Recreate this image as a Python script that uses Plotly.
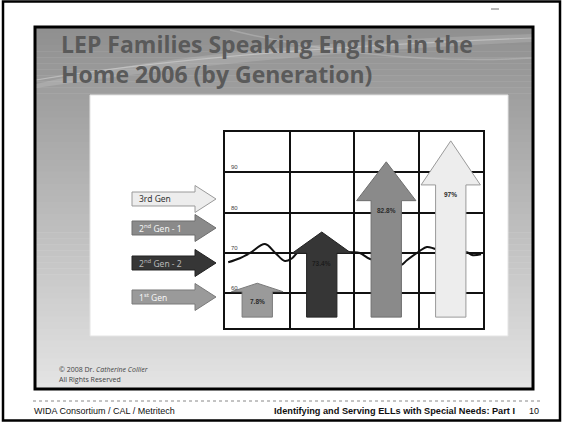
import plotly.graph_objects as go

# ---------------- data ----------------
categories = ["1st Gen", "2nd Gen - 2", "2nd Gen - 1", "3rd Gen"]
category_labels = ["1<sup>st</sup> Gen", "2<sup>nd</sup> Gen - 2", "2<sup>nd</sup> Gen - 1", "3rd Gen"]
pct_values = [7.8, 73.4, 82.8, 97]
pct_labels = ["7.8%", "73.4%", "82.8%", "97%"]
arrow_tips = [62.5, 75.2, 92.6, 97.8]      # arrow tip heights read on the grid scale
arrow_base = 54.1
grid_levels = [60, 70, 80, 90]
level_labels = ["60", "70", "80", "90"]
wave_x = [-0.45, -0.27, -0.11, 0.12, 0.28, 0.43, 0.54, 0.66, 1.0, 1.47, 1.59, 1.75,
          2.0, 2.23, 2.32, 2.52, 2.63, 2.76, 3.0, 3.25, 3.33, 3.47]
wave_y = [67.7, 68.7, 70.0, 72.2, 70.0, 68.0, 68.7, 70.5, 70.2, 70.2, 70.0, 68.5,
          67.7, 67.0, 68.2, 70.5, 71.5, 71.0, 70.2, 70.2, 69.5, 69.7]

# ---------------- styling ----------------
W, H = 563, 422
def px(x): return x / W
def py(y): return 1 - y / H

fills = ["#9a9a9a", "#363636", "#8a8a8a", "#ededed"]
outlines = ["#7a7a7a", "#222222", "#6e6e6e", "#9a9a9a"]
legend_text_colors = ["#f4f4f4", "#b8b8b8", "#f4f4f4", "#333333"]

fig = go.Figure()

# wavy line (behind arrows)
fig.add_trace(go.Scatter(x=wave_x, y=wave_y, mode="lines",
                         line=dict(color="#111111", width=2, shape="spline"),
                         hoverinfo="skip", showlegend=False))

annotations = []
for i, (tip, lab) in enumerate(zip(arrow_tips, pct_labels)):
    L = tip - arrow_base
    head = 0.25 * L
    hb = tip - head
    bw = 0.235
    hw = 0.40 if L < 15 else 0.46
    xs = [i - bw, i - bw, i - hw, i, i + hw, i + bw, i + bw, i - bw]
    ys = [arrow_base, hb, hb, tip, hb, hb, arrow_base, arrow_base]
    fig.add_trace(go.Scatter(x=xs, y=ys, mode="lines", fill="toself",
                             fillcolor=fills[i], line=dict(color=outlines[i], width=1),
                             hoverinfo="skip", showlegend=False))
    annotations.append(dict(x=i, y=hb, xref="x", yref="y", text="<b>" + lab + "</b>",
                            showarrow=False, yshift=-10, xanchor="center", yanchor="middle",
                            font=dict(size=6.5, color="#2a2a2a" if i != 1 else "#1c1c1c",
                                      family="Liberation Sans")))

for lv, lt in zip(grid_levels, level_labels):
    annotations.append(dict(x=px(229), y=lv, xref="paper", yref="y", text=lt,
                            showarrow=False, xanchor="left", yanchor="middle", yshift=5,
                            font=dict(size=6, color="#444", family="Liberation Sans")))

shapes = []
# slide gradient background
top, bot, left, right = 27, 389, 35, 533
N = 60
for k in range(N):
    y0 = top + (bot - top) * k / N
    y1 = top + (bot - top) * (k + 1) / N + 0.5
    v = int(0x90 + (0xe4 - 0x90) * k / (N - 1))
    col = "#%02x%02x%02x" % (v, v, v)
    shapes.append(dict(type="rect", xref="paper", yref="paper", x0=px(left), x1=px(right),
                       y0=py(y1), y1=py(y0), fillcolor=col, line=dict(width=0), layer="below"))

# swoosh in title area
def P(x, y): return "%.5f,%.5f" % (px(x), py(y))
swoosh = "M " + P(36, 84) + " Q " + P(200, 44) + " " + P(533, 34) + " L " + P(533, 42) + \
         " Q " + P(260, 54) + " " + P(36, 88) + " Z"
shapes.append(dict(type="path", xref="paper", yref="paper", path=swoosh,
                   fillcolor="rgba(255,255,255,0.14)", line=dict(width=0), layer="below"))
swoosh_line = "M " + P(36, 80) + " Q " + P(220, 50) + " " + P(533, 38)
shapes.append(dict(type="path", xref="paper", yref="paper", path=swoosh_line,
                   line=dict(color="rgba(220,220,220,0.5)", width=1.2), layer="below"))
swoosh2 = "M " + P(230, 30) + " Q " + P(380, 66) + " " + P(533, 58)
shapes.append(dict(type="path", xref="paper", yref="paper", path=swoosh2,
                   line=dict(color="rgba(210,210,210,0.35)", width=1.5), layer="below"))

# white content box
shapes.append(dict(type="rect", xref="paper", yref="paper", x0=px(90), x1=px(508),
                   y0=py(336), y1=py(95), fillcolor="white",
                   line=dict(color="#e4e4e4", width=1), layer="below"))
# slide border
shapes.append(dict(type="rect", xref="paper", yref="paper", x0=px(left), x1=px(right),
                   y0=py(bot), y1=py(top), line=dict(color="black", width=3)))
# outer frame
shapes.append(dict(type="rect", xref="paper", yref="paper", x0=px(3), x1=px(560),
                   y0=py(420.5), y1=py(1.5), line=dict(color="black", width=2.5)))
# footer dotted line
shapes.append(dict(type="line", xref="paper", yref="paper", x0=px(33), x1=px(540),
                   y0=py(401), y1=py(401), line=dict(color="#888", width=1, dash="dot")))
# small top-right mark
shapes.append(dict(type="line", xref="paper", yref="paper", x0=px(491), x1=px(499),
                   y0=py(9), y1=py(9), line=dict(color="#777", width=1)))

# legend arrows on the left
legend_centers = [297, 263, 228, 199]
for i, cy in enumerate(legend_centers):
    x0, x1, xt = 132, 195, 216
    hb_, hh = 7, 13.5
    path = "M " + P(x0, cy - hb_) + " L " + P(x1, cy - hb_) + " L " + P(x1, cy - hh) + \
           " L " + P(xt, cy) + " L " + P(x1, cy + hh) + " L " + P(x1, cy + hb_) + \
           " L " + P(x0, cy + hb_) + " Z"
    shapes.append(dict(type="path", xref="paper", yref="paper", path=path,
                       fillcolor=fills[i], line=dict(color=outlines[i], width=1)))
    annotations.append(dict(x=px(137), y=py(cy), xref="paper", yref="paper",
                            text=category_labels[i], showarrow=False, xanchor="left",
                            yanchor="middle",
                            font=dict(size=8.5, color=legend_text_colors[i], family="Noto Sans")))

# title
title_font = dict(size=23, color="#5a5a5a", family="Open Sans", weight="bold")
annotations.append(dict(x=px(59), y=py(44), xref="paper", yref="paper", xanchor="left",
                        yanchor="middle",
                        text="LEP Families Speaking English in the", showarrow=False, font=title_font))
annotations.append(dict(x=px(59), y=py(74), xref="paper", yref="paper", xanchor="left",
                        yanchor="middle",
                        text="Home 2006 (by Generation)", showarrow=False, font=title_font))
# copyright
annotations.append(dict(x=px(57), y=py(369), xref="paper", yref="paper", xanchor="left",
                        yanchor="middle",
                        text="© 2008 Dr. <i>Catherine Collier</i>", showarrow=False,
                        font=dict(size=7, color="#444", family="Open Sans")))
annotations.append(dict(x=px(57), y=py(379), xref="paper", yref="paper", xanchor="left",
                        yanchor="middle",
                        text="All Rights Reserved", showarrow=False,
                        font=dict(size=7, color="#444", family="Open Sans")))
# footer
annotations.append(dict(x=px(32), y=py(411), xref="paper", yref="paper", xanchor="left",
                        yanchor="middle",
                        text="WIDA Consortium / CAL / Metritech", showarrow=False,
                        font=dict(size=9, color="#111", family="Liberation Sans")))
annotations.append(dict(x=px(517), y=py(411), xref="paper", yref="paper", xanchor="right",
                        yanchor="middle",
                        text="<b>Identifying and Serving ELLs with Special Needs: Part I</b>",
                        showarrow=False, font=dict(size=9.2, color="#111", family="Liberation Sans")))
annotations.append(dict(x=px(534), y=py(411), xref="paper", yref="paper", xanchor="center",
                        yanchor="middle", text="10", showarrow=False,
                        font=dict(size=9, color="#111", family="Liberation Sans")))

fig.update_layout(
    width=W, height=H, margin=dict(l=0, r=0, t=0, b=0),
    paper_bgcolor="white", plot_bgcolor="rgba(0,0,0,0)",
    shapes=shapes, annotations=annotations, showlegend=False,
    xaxis=dict(domain=[px(225), px(483)], range=[-0.5, 3.5], tickvals=[0.5, 1.5, 2.5],
               showgrid=True, gridcolor="#111", gridwidth=1.5, showticklabels=False,
               ticks="", zeroline=False, showline=True, mirror=True,
               linecolor="#111", linewidth=1.5, fixedrange=True),
    yaxis=dict(domain=[py(328), py(132)], range=[51.4, 100], tickvals=grid_levels,
               showgrid=True, gridcolor="#111", gridwidth=1.5, showticklabels=False,
               ticks="", zeroline=False, showline=True, mirror=True,
               linecolor="#111", linewidth=1.5, fixedrange=True),
)

fig.write_html("out.html", config={"displayModeBar": False},
               post_script="document.body.style.margin='0';")
